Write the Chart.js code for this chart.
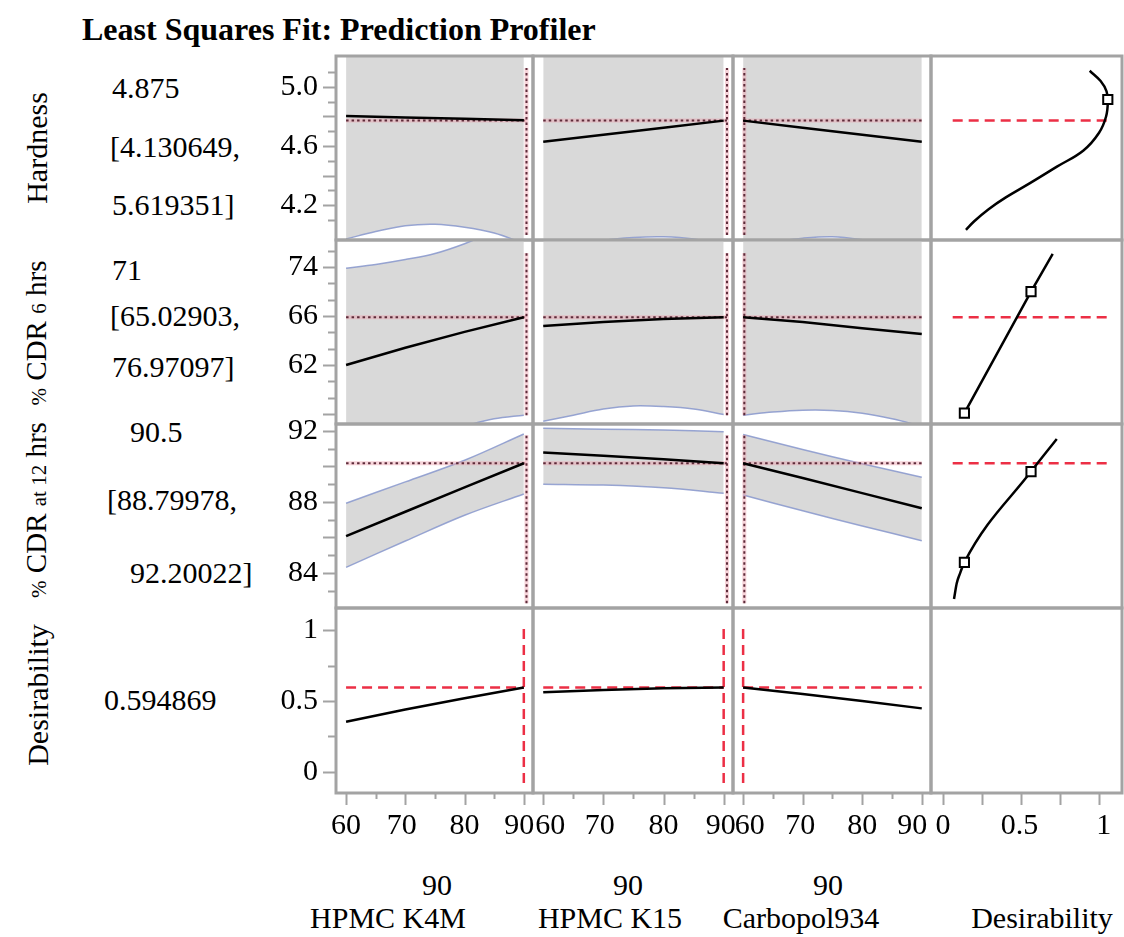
<!DOCTYPE html>
<html>
<head>
<meta charset="utf-8">
<script src="https://cdn.jsdelivr.net/npm/chart.js@4.4.0/dist/chart.umd.min.js"></script>
<style>
  body { margin: 0; width: 1124px; height: 937px; overflow: hidden; position: relative; background: #fff;
         font-family: "Liberation Serif", "Times New Roman", serif; color: #000; }
  .t { position: absolute; white-space: nowrap; font-size: 30px; line-height: 1; transform: translateY(-50%); }
  .c { position: absolute; white-space: nowrap; font-size: 30px; line-height: 1; transform: translate(-50%, -50%); }
  .rot { position: absolute; white-space: nowrap; font-size: 30px; line-height: 1; transform: translate(-50%, -50%) rotate(-90deg); }
  .rot .s { font-size: 21px; }
  canvas { position: absolute; }
</style>
</head>
<body>

<div class="t" style="left:82px;top:29px;font-weight:bold;font-size:32px">Least Squares Fit: Prediction Profiler</div>

<!-- noms des réponses -->
<div class="rot" style="left:37px;top:148px">Hardness</div>
<div class="rot" style="left:36px;top:333px;font-size:29px"><span class="s">%</span> CDR <span class="s">6</span> hrs</div>
<div class="rot" style="left:36px;top:510px;font-size:29px"><span class="s">%</span> CDR <span class="s">at 12</span> hrs</div>
<div class="rot" style="left:38px;top:695px">Desirability</div>

<!-- valeurs prédites et intervalles -->
<div class="t" style="left:112px;top:88px">4.875</div>
<div class="t" style="left:110px;top:147px">[4.130649,</div>
<div class="t" style="left:112px;top:205px">5.619351]</div>
<div class="t" style="left:112px;top:270px">71</div>
<div class="t" style="left:110px;top:316px">[65.02903,</div>
<div class="t" style="left:112px;top:367px">76.97097]</div>
<div class="t" style="left:130px;top:432px">90.5</div>
<div class="t" style="left:107px;top:500px">[88.79978,</div>
<div class="t" style="left:130px;top:573px">92.20022]</div>
<div class="t" style="left:104px;top:700px">0.594869</div>

<!-- facteurs -->
<div class="c" style="left:437px;top:885px">90</div>
<div class="c" style="left:388px;top:918px">HPMC K4M</div>
<div class="c" style="left:628px;top:885px">90</div>
<div class="c" style="left:610px;top:918px">HPMC K15</div>
<div class="c" style="left:828px;top:885px">90</div>
<div class="c" style="left:801px;top:918px">Carbopol934</div>
<div class="c" style="left:1042px;top:918px">Desirability</div>

<script>
// ---- Données ----
const xs4 = [60, 70, 80, 90];
const xs7 = [60, 65, 70, 75, 80, 85, 90];

// réglage courant des facteurs (K4M, K15, Carbopol934)
const factorCurDot = [90.45, 90.55, 60.2];
const factorCurDash = [90, 90, 60];

// axe X des facteurs
const factorTicks = [60, 70, 80, 90];
const factorMinorTicks = [65, 75, 85];
const factorLabels = ['60', '70', '80', '90'];
const factorLabelAt = [[60, 69.4, 80, 89.25], [61.15, 69.4, 80, 89.5], [61.1, 69.6, 80, 88.4]];

// axe X de la désirabilité
const desTicksX = [0, 0.25, 0.5, 0.75, 1];
const desLabelsX = ['0', '0.5', '1'];
const desLabelAtX = [0, 0.49, 1.03];

// Hardness
const hardTicks = [5.0, 4.6, 4.2];
const hardTickLabels = ['5.0', '4.6', '4.2'];
const hardMarks = [5.1, 5.0, 4.9, 4.8, 4.7, 4.6, 4.5, 4.4, 4.3, 4.2, 4.1];
const hardCur = 4.773;
const hardPred = [[4.803, 4.793, 4.784, 4.774], [4.629, 4.676, 4.724, 4.772], [4.772, 4.724, 4.676, 4.629]];
const hardLo = [[3.97, 4.02, 4.06, 4.07, 4.05, 4.01, 3.94], [3.88, 3.92, 3.96, 3.98, 3.985, 3.97, 3.93], [3.92, 3.95, 3.975, 3.985, 3.965, 3.93, 3.88]];
const hardHi = [[5.58, 5.53, 5.50, 5.49, 5.51, 5.55, 5.61], [5.38, 5.43, 5.46, 5.48, 5.48, 5.50, 5.55], [5.55, 5.50, 5.48, 5.48, 5.46, 5.43, 5.38]];
const hardDesD = [0.94, 1.01, 1.048, 1.056, 1.045, 1.0, 0.90, 0.73, 0.56, 0.40, 0.29, 0.20, 0.147];
const hardDesY = [5.11, 5.04, 4.97, 4.90, 4.80, 4.69, 4.57, 4.46, 4.35, 4.25, 4.17, 4.09, 4.031];
const hardDesMarkD = [1.056];
const hardDesMarkY = [4.915];

// % CDR 6 hrs
const cdr6Ticks = [70, 66, 62];
const cdr6TickLabels = ['74', '66', '62'];
const cdr6Marks = [71.33, 70, 68.67, 67.33, 66, 64.67, 63.33, 62, 60.67, 59.33, 58];
const cdr6Cur = 65.9;
const cdr6Pred = [[62.0, 63.4, 64.7, 65.9], [65.18, 65.5, 65.75, 65.9], [65.9, 65.5, 65.0, 64.53]];
const cdr6Lo = [[54.0, 54.8, 55.5, 56.3, 57.0, 57.6, 57.9], [57.4, 57.9, 58.4, 58.65, 58.6, 58.4, 57.95], [57.9, 58.15, 58.3, 58.28, 58.05, 57.6, 57.0]];
const cdr6Hi = [[69.9, 70.2, 70.6, 71.1, 71.9, 72.9, 74.0], [73.0, 72.8, 72.7, 72.65, 72.7, 73.0, 73.8], [73.8, 73.2, 72.9, 72.8, 72.9, 73.2, 73.7]];
const cdr6DesD = [0.137, 0.564, 0.703];
const cdr6DesY = [58.06, 67.98, 71.06];
const cdr6DesMarkD = [0.137, 0.564];
const cdr6DesMarkY = [58.06, 67.98];

// % CDR at 12 hrs
const cdr12Ticks = [92, 88, 84];
const cdr12TickLabels = ['92', '88', '84'];
const cdr12Marks = [92, 91, 90, 89, 88, 87, 86, 85, 84, 83];
const cdr12Cur = 90.18;
const cdr12Pred = [[86.08, 87.45, 88.82, 90.18], [90.78, 90.6, 90.4, 90.18], [90.18, 89.35, 88.5, 87.65]];
const cdr12Lo = [[84.32, 85.8, 87.25, 88.45], [89.0, 88.95, 88.8, 88.49], [88.39, 87.5, 86.65, 85.82]];
const cdr12Hi = [[87.93, 89.13, 90.35, 91.83], [92.15, 92.1, 92.05, 91.96], [91.8, 90.95, 90.15, 89.39]];
const cdr12DesD = [0.0705, 0.088, 0.109, 0.137, 0.564, 0.729];
const cdr12DesY = [82.54, 83.42, 83.98, 84.6, 89.71, 91.55];
const cdr12DesMarkD = [0.137, 0.564];
const cdr12DesMarkY = [84.6, 89.71];

// Desirability
const desTicks = [1, 0.5, 0];
const desTickLabels = ['1', '0.5', '0'];
const desMarks = [1, 0.75, 0.5, 0.25, 0];
const desCur = 0.594869;
const desPred = [[0.354, 0.44, 0.52, 0.595], [0.561, 0.578, 0.59, 0.595], [0.595, 0.55, 0.50, 0.448]];

// ---- Mise en page ----
Chart.defaults.font.family = '"Liberation Serif", "Times New Roman", serif';
Chart.defaults.color = '#000';

const PAD = 44, AXIS_W = 86, AXIS_H = 62;
const colLeft = [336, 533, 733, 931];
const colRight = [533, 733, 931, 1122];
const rowTop = [56, 240, 424, 608];
const rowBottom = [240, 424, 608, 793];
const FRAME = '#a3a3a3';
const RED = '#ec2f45';
const CLEAR = 'rgba(0,0,0,0)';

const factorX = { min: 58.3, max: 91.55 };
const desX = { min: -0.077, max: 1.147 };

const rowsY = [
  { min: 3.963, max: 5.21, ticks: hardTicks, labels: hardTickLabels, marks: hardMarks, isLong: v => Math.round(v * 10) % 2 === 0 },
  { min: 57.18, max: 72.2, ticks: cdr6Ticks, labels: cdr6TickLabels, marks: cdr6Marks, isLong: v => Math.abs(v - Math.round(v)) < 0.01 && Math.round(v) % 4 === 2 },
  { min: 82.03, max: 92.39, ticks: cdr12Ticks, labels: cdr12TickLabels, marks: cdr12Marks, isLong: v => v % 2 === 0 },
  { min: -0.148, max: 1.155, ticks: desTicks, labels: desTickLabels, marks: desMarks, isLong: v => (v * 4) % 2 === 0 }
];

const pts = (xs, ys) => xs.map((x, i) => ({ x, y: ys[i] }));

function solid(data, color, width, extra) {
  return Object.assign({ data, borderColor: color, borderWidth: width, pointRadius: 0, fill: false, tension: 0 }, extra || {});
}

// panneaux des réponses (lignes 1 à 3, colonnes facteurs)
function responseSets(pred, lo, hi, ciX, cur, curX, vSpan) {
  const hx = [Math.min(60, curX), Math.max(90, curX)];
  const halo = 'rgba(238,160,172,0.45)';
  const dot = 'rgba(85,35,50,0.95)';
  const band = 'rgba(135,150,205,0.85)';
  return [
    solid(pts(xs4, pred), '#000', 2.5),
    solid(pts(hx, [cur, cur]), dot, 2, { borderDash: [2.5, 3] }),
    solid(pts([curX, curX], vSpan), dot, 2, { borderDash: [2.5, 3] }),
    solid(pts(hx, [cur, cur]), halo, 4),
    solid(pts([curX, curX], vSpan), halo, 4),
    solid(pts(ciX, lo), band, 1.5, { tension: 0.35 }),
    solid(pts(ciX, hi), band, 1.5, { tension: 0.35, fill: '-1', backgroundColor: '#d9d9d9' })
  ];
}

// fonctions de désirabilité (colonne de droite)
function desFnSets(d, y, md, my, cur, interp) {
  return [
    solid(pts(md, my), '#000', 2, { showLine: false, pointRadius: 6.5, pointStyle: 'rect', pointBackgroundColor: '#fff', pointBorderColor: '#000', pointBorderWidth: 2 }),
    solid(pts(d, y), '#000', 2.5, interp),
    solid(pts([0.062, 1.062], [cur, cur]), RED, 2.5, { borderDash: [10, 6] })
  ];
}

function desRowSets(pred, curX) {
  return [
    solid(pts(xs4, pred), '#000', 2.5),
    solid(pts([60, 90], [desCur, desCur]), RED, 2.5, { borderDash: [10, 6] }),
    solid(pts([curX, curX], [-0.077, 1.035]), RED, 2.5, { borderDash: [10, 6] })
  ];
}

function panel(r, c, datasets) {
  const left = colLeft[c], top = rowTop[r];
  const w = colRight[c] - left, h = rowBottom[r] - top;
  const hasY = c === 0, hasX = r === 3;
  const yAx = rowsY[r];
  const xAx = c === 3 ? desX : factorX;
  const cw = PAD + (hasY ? AXIS_W : 0) + w + PAD;
  const ch = PAD + h + (hasX ? AXIS_H : 0) + PAD;

  const cv = document.createElement('canvas');
  cv.width = cw; cv.height = ch;
  cv.style.left = (left - PAD - (hasY ? AXIS_W : 0)) + 'px';
  cv.style.top = (top - PAD) + 'px';
  cv.style.width = cw + 'px';
  cv.style.height = ch + 'px';
  document.body.appendChild(cv);

  const xLabels = c === 3 ? desLabelsX : factorLabels;
  const xLabelAt = c === 3 ? desLabelAtX : factorLabelAt[c];
  const xMarks = c === 3 ? desTicksX.map(v => [v, 12]) :
    factorTicks.map(v => [v, 12]).concat(factorMinorTicks.map(v => [v, 6]));

  // cadre gris et graduations
  const frame = {
    id: 'frame' + r + c,
    afterDraw(chart) {
      const { ctx, chartArea: a, scales } = chart;
      ctx.save();
      ctx.strokeStyle = FRAME;
      ctx.lineWidth = 2;
      if (hasY) {
        yAx.marks.forEach(v => {
          const y = Math.round(scales.y.getPixelForValue(v)) + 0.5;
          const len = yAx.isLong(v) ? 13 : 8;
          ctx.beginPath(); ctx.moveTo(a.left - len, y); ctx.lineTo(a.left, y); ctx.stroke();
        });
      }
      if (hasX) {
        xMarks.forEach(([v, len]) => {
          const x = Math.round(scales.x.getPixelForValue(v)) + 0.5;
          ctx.beginPath(); ctx.moveTo(x, a.bottom); ctx.lineTo(x, a.bottom + len); ctx.stroke();
        });
      }
      ctx.lineWidth = 3;
      ctx.strokeRect(a.left, a.top, a.right - a.left, a.bottom - a.top);
      ctx.restore();
    }
  };

  // graduations natives transparentes : elles ne servent qu'à écarter les libellés
  const hiddenGrid = len => ({ display: true, drawOnChartArea: false, drawTicks: true, tickLength: len, color: CLEAR, tickColor: CLEAR });

  new Chart(cv, {
    type: 'line',
    data: { datasets },
    options: {
      responsive: false,
      animation: false,
      events: [],
      layout: { padding: { left: PAD, right: PAD, top: PAD, bottom: PAD } },
      plugins: { legend: { display: false }, tooltip: { enabled: false } },
      scales: {
        x: {
          type: 'linear', min: xAx.min, max: xAx.max, display: hasX,
          grid: hiddenGrid(15), border: { display: false },
          ticks: { autoSkip: false, maxRotation: 0, minRotation: 0, padding: 0, color: '#000',
                   font: { size: 30 }, callback: (v, i) => xLabels[i] },
          afterBuildTicks: s => { s.ticks = xLabelAt.map(v => ({ value: v })); },
          afterFit: s => { s.height = hasX ? AXIS_H : 0; }
        },
        y: {
          type: 'linear', min: yAx.min, max: yAx.max, display: hasY,
          grid: hiddenGrid(18), border: { display: false },
          ticks: { autoSkip: false, padding: 0, color: '#000', font: { size: 30 },
                   callback: (v, i) => yAx.labels[i] },
          afterBuildTicks: s => { s.ticks = yAx.ticks.map(v => ({ value: v })); },
          afterFit: s => { s.width = hasY ? AXIS_W : 0; }
        }
      }
    },
    plugins: [frame]
  });
}

const hardV = [3.997, 5.129], cdr6V = [57.9, 71.14], cdr12V = [82.3, 91.77];

for (let c = 0; c < 3; c++) {
  panel(0, c, responseSets(hardPred[c], hardLo[c], hardHi[c], xs7, hardCur, factorCurDot[c], hardV));
  panel(1, c, responseSets(cdr6Pred[c], cdr6Lo[c], cdr6Hi[c], xs7, cdr6Cur, factorCurDot[c], cdr6V));
  panel(2, c, responseSets(cdr12Pred[c], cdr12Lo[c], cdr12Hi[c], xs4, cdr12Cur, factorCurDot[c], cdr12V));
  panel(3, c, desRowSets(desPred[c], factorCurDash[c]));
}
panel(0, 3, desFnSets(hardDesD, hardDesY, hardDesMarkD, hardDesMarkY, hardCur, { tension: 0.4 }));
panel(1, 3, desFnSets(cdr6DesD, cdr6DesY, cdr6DesMarkD, cdr6DesMarkY, cdr6Cur, {}));
panel(2, 3, desFnSets(cdr12DesD, cdr12DesY, cdr12DesMarkD, cdr12DesMarkY, cdr12Cur, { cubicInterpolationMode: 'monotone' }));
panel(3, 3, []);
</script>
</body>
</html>
